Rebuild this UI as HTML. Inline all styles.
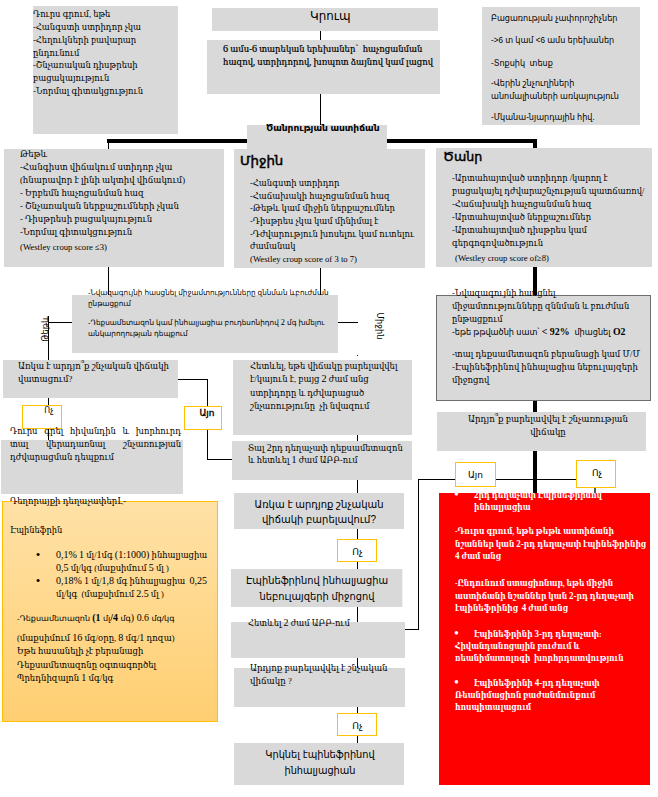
<!DOCTYPE html>
<html lang="hy"><head><meta charset="utf-8"><title>Կրուպ</title>
<style>
html,body{margin:0;padding:0;background:#fff}
#pg{position:relative;width:658px;height:797px;overflow:hidden;background:#fff;font-family:'Liberation Serif','DejaVu Serif',serif}
.b{position:absolute}
.t{position:absolute;white-space:pre;transform-origin:0 0}
.t.c{transform-origin:50% 0;text-align:center;width:400px;margin-left:-200px}
</style></head><body><div id="pg">
<div class="b" style="left:320.2px;top:30px;width:1px;height:10.5px;background:#000"></div>
<div class="b" style="left:320.2px;top:93px;width:1px;height:32.5px;background:#000"></div>
<div class="b" style="left:107.2px;top:139.45px;width:429.8px;height:3.9px;background:#000"></div>
<div class="b" style="left:533.1px;top:139.5px;width:4px;height:354px;background:#000"></div>
<div class="b" style="left:108px;top:142px;width:1px;height:7.5px;background:#000"></div>
<div class="b" style="left:108px;top:266px;width:1px;height:30px;background:#000"></div>
<div class="b" style="left:320.2px;top:267px;width:1px;height:29px;background:#000"></div>
<div class="b" style="left:48.2px;top:321.8px;width:23.8px;height:1px;background:#000"></div>
<div class="b" style="left:47.7px;top:315.7px;width:1px;height:45.3px;background:#000"></div>
<div class="b" style="left:337px;top:321.8px;width:21px;height:1px;background:#000"></div>
<div class="b" style="left:357px;top:355.2px;width:1px;height:1px;background:#222"></div>
<div class="b" style="left:357px;top:434px;width:1px;height:311px;background:#000"></div>
<div class="b" style="left:47.7px;top:398px;width:1px;height:43px;background:#000"></div>
<div class="b" style="left:177px;top:379.3px;width:31.2px;height:1px;background:#000"></div>
<div class="b" style="left:207.2px;top:379.3px;width:1px;height:80.4px;background:#000"></div>
<div class="b" style="left:207.7px;top:458.7px;width:25.3px;height:1px;background:#000"></div>
<div class="b" style="left:404px;top:628.6px;width:15px;height:1px;background:#000"></div>
<div class="b" style="left:418px;top:479px;width:1px;height:150.6px;background:#000"></div>
<div class="b" style="left:418px;top:478.9px;width:159px;height:1px;background:#000"></div>
<div class="b" style="left:594.3px;top:487px;width:1.4px;height:7px;background:#555"></div>
<div class="b" style="left:33.2px;top:5.5px;width:144.5px;height:128.1px;background:#d9d9d9"></div>
<div class="b" style="left:212px;top:8px;width:226px;height:22.5px;background:#d9d9d9"></div>
<div class="b" style="left:207px;top:40px;width:233px;height:53.7px;background:#d9d9d9"></div>
<div class="b" style="left:247.2px;top:125px;width:139.8px;height:24.5px;background:#d9d9d9"></div>
<div class="b" style="left:482.2px;top:7px;width:157.9px;height:117.8px;background:#d9d9d9"></div>
<div class="b" style="left:4.2px;top:149px;width:219.8px;height:118.2px;background:#d9d9d9"></div>
<div class="b" style="left:234px;top:149.2px;width:191px;height:119.1px;background:#d9d9d9"></div>
<div class="b" style="left:436px;top:148.2px;width:216.2px;height:119px;background:#d9d9d9"></div>
<div class="b" style="left:71.5px;top:295.2px;width:266.5px;height:58.3px;background:#d9d9d9"></div>
<div class="b" style="left:2.5px;top:359.7px;width:175.2px;height:38.8px;background:#d9d9d9"></div>
<div class="b" style="left:22px;top:405px;width:39.7px;height:24.3px;background:#fff;border:1px solid #ffc000;box-sizing:border-box"></div>
<div class="b" style="left:184px;top:406px;width:38px;height:23.7px;background:#fff;border:1px solid #ffc000;box-sizing:border-box"></div>
<div class="b" style="left:1.2px;top:440px;width:181.8px;height:53.7px;background:#d9d9d9"></div>
<div class="b" style="left:233.2px;top:359.7px;width:179px;height:75px;background:#d9d9d9"></div>
<div class="b" style="left:232.2px;top:441px;width:180px;height:38.7px;background:#d9d9d9"></div>
<div class="b" style="left:436.3px;top:294.9px;width:214.7px;height:106.3px;background:#d9d9d9;border:1px solid #6e6e6e;box-sizing:border-box"></div>
<div class="b" style="left:437.2px;top:412px;width:209.2px;height:39.4px;background:#d9d9d9"></div>
<div class="b" style="left:455px;top:462.4px;width:40.8px;height:24.9px;background:#fff;border:1px solid #ffc000;box-sizing:border-box"></div>
<div class="b" style="left:576px;top:460.3px;width:39.6px;height:27.3px;background:#fff;border:1px solid #ffc000;box-sizing:border-box"></div>
<div class="b" style="left:439.1px;top:493px;width:211.2px;height:291.8px;background:#ff0000"></div>
<div class="b" style="left:2px;top:501px;width:215.9px;height:221.4px;background:linear-gradient(#ffe1a6,#ffcf72);border:1px solid #ffc000;box-sizing:border-box"></div>
<div class="b" style="left:234px;top:493px;width:170.2px;height:35.7px;background:#d9d9d9"></div>
<div class="b" style="left:337.2px;top:539.2px;width:39.6px;height:22.5px;background:#fff;border:1px solid #ffc000;box-sizing:border-box"></div>
<div class="b" style="left:231.3px;top:569.2px;width:172.1px;height:38.3px;background:#d9d9d9;border-right:1px solid #f2f2f2;box-sizing:border-box"></div>
<div class="b" style="left:231.2px;top:622px;width:173.8px;height:35.7px;background:#d9d9d9"></div>
<div class="b" style="left:234.2px;top:668px;width:170.8px;height:38.6px;background:#d9d9d9"></div>
<div class="b" style="left:337.3px;top:712.8px;width:39.6px;height:22.9px;background:#fff;border:1px solid #ffc000;box-sizing:border-box"></div>
<div class="b" style="left:233.5px;top:743.2px;width:170.5px;height:41.4px;background:#d9d9d9"></div>
<div class="b" style="left:47.7px;top:429.3px;width:1px;height:11.2px;background:#000"></div>
<div id="tA" class="t" style="left:33.2px;top:8.2px;font:normal 8.5px/12.8px 'Liberation Serif','DejaVu Serif',serif;color:#000;transform:scaleX(0.9918);"><span>Դուրս գրում, եթե</span><br><span>-Հանգստի ստրիդոր չկա</span><br><span>-Հեղուկների բավարար</span><br><span>ընդունում</span><br><span>-Շնչառական դիսթրեսի</span><br><span>բացակայություն</span><br><span>-Նորմալ գիտակցություն</span></div>
<div id="tB" class="t" style="left:310px;top:9.19px;font:normal 12px/14px 'Liberation Sans','DejaVu Sans',sans-serif;color:#000;transform:scaleX(0.9901);"><span>Կրուպ</span></div>
<div id="tC" class="t" style="left:223.2px;top:43.19px;font:normal 8.5px/12.5px 'Liberation Serif','DejaVu Serif',serif;color:#000;transform:scaleX(0.9975);-webkit-text-stroke:0.2px #000;"><span><span style="font-size:1.2em;line-height:0">6</span> ամս-<span style="font-size:1.2em;line-height:0">6</span> տարեկան երեխաներ՝  հաչոցանման</span><br><span>հազով, ստրիդորով, խռպոտ ձայնով կամ լացով</span></div>
<div id="tD" class="t" style="left:265.7px;top:122.19px;font:bold 8.5px/12px 'Liberation Sans','DejaVu Sans',sans-serif;color:#000;transform:scaleX(1.0736);"><span>Ծանրության աստիճան</span></div>
<div id="tE" class="t" style="left:20px;top:148.19px;font:normal 8.5px/12.95px 'Liberation Serif','DejaVu Serif',serif;color:#000;transform:scaleX(1.0129);"><span>Թեթև</span><br><span>-Հանգիստ վիճակում ստիդոր չկա</span><br><span>(հնարավոր է լինի ակտիվ վիճակում)</span><br><span>- Երբեմն հաչոցանման հազ</span><br><span>- Շնչառական ներքաշումների չկան</span><br><span>- Դիսթրեսի բացակայություն</span><br><span>-Նորմալ գիտակցություն</span></div>
<div id="tE2" class="t" style="left:20px;top:242.2px;font:normal 8.6px/10px 'Liberation Serif','DejaVu Serif',serif;color:#000;transform:scaleX(1.0074);"><span>(Westley croup score ≤3)</span></div>
<div id="tF0" class="t" style="left:240.2px;top:152.19px;font:normal 12px/18px 'Liberation Sans','DejaVu Sans',sans-serif;color:#000;transform:scaleX(1.1089);-webkit-text-stroke:0.45px #000;"><span>Միջին</span></div>
<div id="tF" class="t" style="left:249.7px;top:177.19px;font:normal 8.5px/12.6px 'Liberation Serif','DejaVu Serif',serif;color:#000;transform:scaleX(0.9893);"><span>-Հանգստի ստրիդոր</span><br><span>-Հաճախակի հաչոցանման հազ</span><br><span>-Թեթև կամ միջին ներքաշումներ</span><br><span>-Դիսթրես չկա կամ մինիմալ է</span><br><span>-Դժվարություն խոսելու կամ ուտելու</span><br><span>ժամանակ</span></div>
<div id="tF2" class="t" style="left:249.7px;top:254.2px;font:normal 8.6px/10px 'Liberation Serif','DejaVu Serif',serif;color:#000;transform:scaleX(1.0074);"><span>(Westley croup score of 3 to 7)</span></div>
<div id="tG0" class="t" style="left:443px;top:148.19px;font:normal 12px/18px 'Liberation Sans','DejaVu Sans',sans-serif;color:#000;transform:scaleX(1.0519);-webkit-text-stroke:0.45px #000;"><span>Ծանր</span></div>
<div id="tG" class="t" style="left:452.2px;top:172.19px;font:normal 8.5px/13px 'Liberation Serif','DejaVu Serif',serif;color:#000;transform:scaleX(0.9872);"><span>-Արտահայտված ստրիդոր /կարող է</span><br><span>բացակայել դժվարաշնչության պատճառով/</span><br><span>-Հաճախակի հաչոցանման հազ</span><br><span>-Արտահայտված ներքաշումներ</span><br><span>-Արտահայտված դիսթրես կամ</span><br><span>գերգոգռվածություն</span></div>
<div id="tG2" class="t" style="left:454.7px;top:253.2px;font:normal 8.6px/10px 'Liberation Serif','DejaVu Serif',serif;color:#000;transform:scaleX(1.0052);"><span>(Westley croup score of≥8)</span></div>
<div id="tH1" class="t" style="left:87.5px;top:287.19px;font:normal 7.5px/11px 'Liberation Sans','DejaVu Sans',sans-serif;color:#000;transform:scaleX(0.9615);"><span>-Նվազագույնի հասցնել միջամտությունները զննման ևբուժման</span><br><span>ընթացքում</span></div>
<div id="tH2" class="t" style="left:87.5px;top:318.2px;font:normal 7.5px/10.8px 'Liberation Sans','DejaVu Sans',sans-serif;color:#000;transform:scaleX(0.969);"><span>-Դեքսամետազոն կամ ինհալյացիա բուդեսոնիդով <span style="font:8.6px 'Liberation Serif','DejaVu Serif',serif;line-height:0">2</span> մգ խմելու</span><br><span>անկարողության դեպքում</span></div>
<div id="r1" class="t" style="left:45px;top:329px;font:9px/12px 'Liberation Sans','DejaVu Sans',sans-serif;transform-origin:50% 50%;transform:translate(-50%,-50%) rotate(-90deg) scaleX(0.93)">Թեթև</div>
<div id="r2" class="t" style="left:380px;top:326px;font:9px/12px 'Liberation Sans','DejaVu Sans',sans-serif;transform-origin:50% 50%;transform:translate(-50%,-50%) rotate(90deg) scaleX(0.93)">Միջին</div>
<div id="tI" class="t" style="left:17.5px;top:360.19px;font:normal 8.8px/13.2px 'Liberation Serif','DejaVu Serif',serif;color:#000;transform:scaleX(0.9767);"><span>Առկա է արդյո՞ք շնչական վիճակի</span><br><span>վատացում?</span></div>
<div id="tN1" class="t c" style="left:48.9px;top:405.19px;font:normal 8px/11px 'Liberation Sans','DejaVu Sans',sans-serif;color:#000;transform:scaleX(1);"><span>Ոչ</span></div>
<div id="tN2" class="t c" style="left:207.2px;top:408.18px;font:normal 8.8px/11px 'Liberation Sans','DejaVu Sans',sans-serif;color:#000;transform:scaleX(1.0202);-webkit-text-stroke:0.35px #000;"><span>Այո</span></div>
<div id="tJ" class="t" style="left:10px;top:425.19px;font:normal 8.5px/13.1px 'Liberation Serif','DejaVu Serif',serif;color:#000;transform:scaleX(0.992);width:172.5px;white-space:normal;text-align:justify;text-align-last:justify;"><span>Դուրս գրել հիվանդին և խորհուրդ</span><br><span>տալ վերադառնալ շնչառության</span></div>
<div id="tJ2" class="t" style="left:10px;top:451.19px;font:normal 8.5px/13.1px 'Liberation Serif','DejaVu Serif',serif;color:#000;transform:scaleX(0.992);"><span>դժվարացման դեպքում</span></div>
<div id="tK" class="t" style="left:249.7px;top:360.19px;font:normal 8.6px/13.2px 'Liberation Serif','DejaVu Serif',serif;color:#000;transform:scaleX(0.983);"><span>Հետևել, եթե վիճակը բարելավվել</span><br><span>է/կայուն է, բայց <span style="font-size:1.2em;line-height:0">2</span> ժամ անց</span><br><span>ստրիդորը և դժվարացած</span><br><span>շնչառությունը  չի նվազում</span></div>
<div id="tL" class="t" style="left:248.2px;top:443.2px;font:normal 8.6px/11.6px 'Liberation Serif','DejaVu Serif',serif;color:#000;transform:scaleX(0.9736);"><span>Տալ <span style="font-size:1.2em;line-height:0">2</span>րդ դեղաչափ դեքսամետազոն</span><br><span>և հետևել <span style="font-size:1.2em;line-height:0">1</span> ժամ ԱԲԲ-ում</span></div>
<div id="tM1" class="t" style="left:452.2px;top:287.2px;font:normal 8.5px/12.8px 'Liberation Serif','DejaVu Serif',serif;color:#000;transform:scaleX(0.9801);"><span>-Նվազագույնի հասցնել</span><br><span>միջամտությունները զննման և բուժման</span><br><span>ընթացքում</span></div>
<div id="tM2" class="t" style="left:452.2px;top:326.19px;font:normal 8.3px/12px 'Liberation Sans','DejaVu Sans',sans-serif;color:#000;transform:scaleX(0.9841);"><span>-եթե թթվածնի սատ՝<b style="font:bold 10px 'Liberation Serif','DejaVu Serif',serif;line-height:0"> &lt; 92%  </b>միացնել<b style="font:bold 10px 'Liberation Serif','DejaVu Serif',serif;line-height:0"> O2</b></span></div>
<div id="tM3" class="t" style="left:452.2px;top:348.19px;font:normal 8.5px/12.7px 'Liberation Serif','DejaVu Serif',serif;color:#000;transform:scaleX(0.9969);"><span>-տալ դեքսամետազոն բերանացի կամ Մ/Մ</span><br><span>-Էպինեֆրինով ինհալացիա նեբուլայզերի</span><br><span>միջոցով</span></div>
<div id="tN" class="t c" style="left:548px;top:413.2px;font:normal 8.6px/12.5px 'Liberation Serif','DejaVu Serif',serif;color:#000;transform:scaleX(1.0032);"><span>Արդյո՞ք բարելավվել է շնչառության</span><br><span>վիճակը</span></div>
<div id="tY" class="t c" style="left:475.5px;top:470.2px;font:normal 9px/11px 'Liberation Sans','DejaVu Sans',sans-serif;color:#000;transform:scaleX(1);"><span>Այո</span></div>
<div id="tNo" class="t c" style="left:597px;top:468.2px;font:normal 9px/11px 'Liberation Sans','DejaVu Sans',sans-serif;color:#000;transform:scaleX(1);"><span>Ոչ</span></div>
<div id="tV1" class="t" style="left:491px;top:12.2px;font:normal 9px/12px 'Liberation Sans','DejaVu Sans',sans-serif;color:#000;transform:scaleX(0.8992);"><span>Բացառության չափորոշիչներ</span></div>
<div id="tV2" class="t" style="left:491px;top:34.2px;font:normal 9px/12px 'Liberation Sans','DejaVu Sans',sans-serif;color:#000;transform:scaleX(0.8992);"><span>-&gt;6 տ կամ &lt;6 ամս երեխաներ</span></div>
<div id="tV3" class="t" style="left:491px;top:57.2px;font:normal 9px/12px 'Liberation Sans','DejaVu Sans',sans-serif;color:#000;transform:scaleX(0.8992);"><span>-Տոքսիկ  տեսք</span></div>
<div id="tV4" class="t" style="left:491px;top:77.2px;font:normal 9px/13.1px 'Liberation Sans','DejaVu Sans',sans-serif;color:#000;transform:scaleX(0.8987);"><span>-Վերին շնչուղիների</span><br><span>անոմալիաների առկայություն</span></div>
<div id="tV5" class="t" style="left:491px;top:111.2px;font:normal 9px/12px 'Liberation Sans','DejaVu Sans',sans-serif;color:#000;transform:scaleX(0.8992);"><span>-Մկանա-նյարդային հիվ.</span></div>
<div id="tO0" class="t" style="left:10px;top:495.19px;font:normal 8.5px/12px 'Liberation Serif','DejaVu Serif',serif;color:#000;transform:scaleX(1.0019);"><span>Դեղորայքի դեղաչափերԼ-</span></div>
<div id="tO1" class="t" style="left:10px;top:524.19px;font:normal 8.5px/12px 'Liberation Serif','DejaVu Serif',serif;color:#000;transform:scaleX(0.9746);"><span>Էպինեֆրին</span></div>
<div id="tOb1" class="t" style="left:35.8px;top:549.19px;font:normal 13px/12.6px 'Liberation Serif','DejaVu Serif',serif;color:#000;transform:scaleX(1);"><span>•</span></div>
<div id="tOb2" class="t" style="left:35.8px;top:575.19px;font:normal 13px/12.6px 'Liberation Serif','DejaVu Serif',serif;color:#000;transform:scaleX(1);"><span>•</span></div>
<div id="tO2" class="t" style="left:55.7px;top:549.2px;font:normal 8.5px/12.9px 'Liberation Serif','DejaVu Serif',serif;color:#000;transform:scaleX(0.9868);"><span><span style="font-size:1.2em;line-height:0">0,1%</span> <span style="font-size:1.2em;line-height:0">1</span> մլ/<span style="font-size:1.2em;line-height:0">1</span>մգ <span style="font-size:1.2em;line-height:0">(1:1000)</span> ինհալյացիա</span><br><span><span style="font-size:1.2em;line-height:0">0,5</span> մլ/կգ (մաքսիմում <span style="font-size:1.2em;line-height:0">5</span> մլ )</span><br><span><span style="font-size:1.2em;line-height:0">0,18%</span> <span style="font-size:1.2em;line-height:0">1</span> մլ/<span style="font-size:1.2em;line-height:0">1,8</span> մգ ինհալյացիա  <span style="font-size:1.2em;line-height:0">0,25</span></span><br><span>մլ/կգ  (մաքսիմում <span style="font-size:1.2em;line-height:0">2.5</span> մլ )</span></div>
<div id="tO3" class="t" style="left:17px;top:613.19px;font:normal 7.8px/12px 'Liberation Sans','DejaVu Sans',sans-serif;color:#000;transform:scaleX(1.0315);"><span>-Դեքսամետազոն <b style="font:bold 9.6px 'Liberation Serif','DejaVu Serif',serif;line-height:0">(1 </b>մլ<b style="font:bold 9.6px 'Liberation Serif','DejaVu Serif',serif;line-height:0">/4 </b>մգ<span style="font:9.6px 'Liberation Serif','DejaVu Serif',serif;line-height:0">) 0.6 </span>մգ/կգ</span></div>
<div id="tO4" class="t" style="left:17px;top:632.19px;font:normal 8.5px/13.2px 'Liberation Serif','DejaVu Serif',serif;color:#000;transform:scaleX(0.9963);"><span>(մաքսիմում <span style="font-size:1.2em;line-height:0">16</span> մգ/օրը, <span style="font-size:1.2em;line-height:0">8</span> մգ/<span style="font-size:1.2em;line-height:0">1</span> դոզա)</span><br><span>Եթե հասանելի չէ բերանացի</span><br><span>Դեքսամետազոնը օգտագործել</span><br><span>Պրեդնիզալոն <span style="font-size:1.2em;line-height:0">1</span> մգ/կգ</span></div>
<div id="tP" class="t c" style="left:319.4px;top:497.2px;font:normal 10px/15px 'Liberation Sans','DejaVu Sans',sans-serif;color:#000;transform:scaleX(0.9972);"><span>Առկա է արդյոք շնչական</span><br><span>վիճակի բարելավում?</span></div>
<div id="tP2" class="t c" style="left:357.6px;top:547.2px;font:normal 9.2px/11px 'Liberation Sans','DejaVu Sans',sans-serif;color:#000;transform:scaleX(1);"><span>Ոչ</span></div>
<div id="tQ" class="t c" style="left:316.6px;top:573.2px;font:normal 10px/15.9px 'Liberation Sans','DejaVu Sans',sans-serif;color:#000;transform:scaleX(0.986);"><span>Էպինեֆրինով ինհալյացիա</span><br><span>նեբուլայզերի միջոցով</span></div>
<div id="tR" class="t" style="left:247.5px;top:617.19px;font:normal 8.5px/12px 'Liberation Serif','DejaVu Serif',serif;color:#000;transform:scaleX(0.9854);"><span>Հետևել <span style="font-size:1.2em;line-height:0">2</span> ժամ ԱԲԲ-ում</span></div>
<div id="tS" class="t" style="left:249.8px;top:662.19px;font:normal 8.5px/12.5px 'Liberation Serif','DejaVu Serif',serif;color:#000;transform:scaleX(1.0174);"><span>Արդյոք բարելավվել է շնչական</span><br><span>վիճակը ?</span></div>
<div id="tS2" class="t c" style="left:357.6px;top:721.2px;font:normal 9.2px/11px 'Liberation Sans','DejaVu Sans',sans-serif;color:#000;transform:scaleX(1);"><span>Ոչ</span></div>
<div id="tT" class="t c" style="left:319.7px;top:747.19px;font:normal 10px/15.8px 'Liberation Sans','DejaVu Sans',sans-serif;color:#000;transform:scaleX(0.9784);"><span>Կրկնել էպինեֆրինով</span><br><span>ինհալյացիան</span></div>
<div id="tU0" class="t" style="left:454px;top:489.19px;font:normal 14px/12.4px 'Liberation Serif','DejaVu Serif',serif;color:#fff;transform:scaleX(1);"><span>•</span></div>
<div id="tU1" class="t" style="left:473.7px;top:489.19px;font:bold 8.5px/12.4px 'Liberation Serif','DejaVu Serif',serif;color:#fff;transform:scaleX(0.8842);"><span><span style="font-size:1.2em;line-height:0">2</span>րդ դեղաչափ Էպինեֆրինով</span></div>
<div id="tU1b" class="t" style="left:473.7px;top:501.19px;font:bold 8.5px/12.4px 'Liberation Serif','DejaVu Serif',serif;color:#fff;transform:scaleX(0.8851);"><span>ինհալյացիա</span></div>
<div id="tU2" class="t" style="left:454.7px;top:525.19px;font:bold 8.5px/12.5px 'Liberation Serif','DejaVu Serif',serif;color:#fff;transform:scaleX(0.8851);"><span>-Դուրս գրում, եթե թեթև աստիճանի</span><br><span>նշաններ կան <span style="font-size:1.2em;line-height:0">2-</span>րդ դեղաչափ էպինեֆրինից</span><br><span><span style="font-size:1.2em;line-height:0">4</span> ժամ անց</span></div>
<div id="tU3" class="t" style="left:454.7px;top:577.19px;font:bold 8.5px/12.6px 'Liberation Serif','DejaVu Serif',serif;color:#fff;transform:scaleX(0.8851);"><span>-Ընդունում ստացիոնար, եթե միջին</span><br><span>աստիճանի նշաններ կան <span style="font-size:1.2em;line-height:0">2-</span>րդ դեղաչափ</span><br><span>էպինեֆրինից  <span style="font-size:1.2em;line-height:0">4</span> ժամ անց</span></div>
<div id="tU4b" class="t" style="left:454px;top:628.19px;font:normal 14px/12.4px 'Liberation Serif','DejaVu Serif',serif;color:#fff;transform:scaleX(1);"><span>•</span></div>
<div id="tU4" class="t" style="left:473.7px;top:628.2px;font:bold 8.5px/12.4px 'Liberation Serif','DejaVu Serif',serif;color:#fff;transform:scaleX(0.8809);"><span>Էպինեֆրինի <span style="font-size:1.2em;line-height:0">3-</span>րդ դեղաչափ:</span></div>
<div id="tU4c" class="t" style="left:454.7px;top:640.2px;font:bold 8.5px/12.3px 'Liberation Serif','DejaVu Serif',serif;color:#fff;transform:scaleX(0.8716);"><span>Հիվանդանոցային բուժում և</span><br><span>ռեանիմատոլոգի  խորհրդատվություն</span></div>
<div id="tU5b" class="t" style="left:454px;top:677.19px;font:normal 14px/12.4px 'Liberation Serif','DejaVu Serif',serif;color:#fff;transform:scaleX(1);"><span>•</span></div>
<div id="tU5" class="t" style="left:473.7px;top:677.2px;font:bold 8.5px/12.4px 'Liberation Serif','DejaVu Serif',serif;color:#fff;transform:scaleX(0.8844);"><span>Էպինեֆրինի <span style="font-size:1.2em;line-height:0">4-</span>րդ դեղաչափ</span></div>
<div id="tU5c" class="t" style="left:454.7px;top:689.19px;font:bold 8.5px/12.2px 'Liberation Serif','DejaVu Serif',serif;color:#fff;transform:scaleX(0.8795);"><span>Ռեանիմացիոն բաժանմունքում</span><br><span>հոսպիտալացում</span></div>
</div></body></html>
